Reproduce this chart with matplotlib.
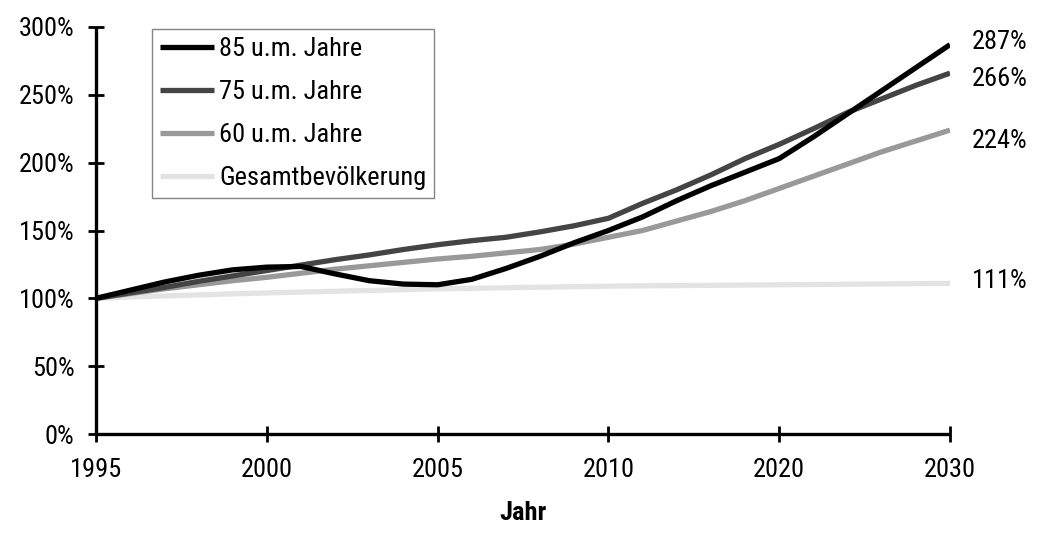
import matplotlib
matplotlib.use("Agg")
import matplotlib.pyplot as plt
from matplotlib.ticker import FixedLocator, FuncFormatter

plt.rcParams['font.family'] = ['Roboto Condensed', 'DejaVu Sans']

# categories (Excel-style category axis: yearly to 2010, then every 2 years)
years = list(range(1995, 2011)) + list(range(2012, 2031, 2))
tick_years = [1995, 2000, 2005, 2010, 2020, 2030]

s85 = [100, 106, 112, 117, 121, 123, 123.5, 118, 113, 110.5, 110, 114, 122, 131,
       141, 150, 160, 172, 183, 193, 203, 219, 236, 253, 270, 287]
s75 = [100, 104, 108, 112.5, 116.5, 120.5, 124.5, 128.5, 132, 136, 139.5, 142.5,
       145, 149, 153.5, 159, 170, 180, 191, 203, 213.5, 225, 237, 247, 257, 266]
s60 = [100, 103.5, 107, 110, 113, 115.5, 118.5, 121.5, 124, 126.5, 129, 131,
       133.5, 136, 140, 145, 150, 157, 164, 172, 181, 190, 199, 208, 216, 224]
sges = [100, 101, 101.8, 102.5, 103.3, 104, 104.6, 105.2, 105.8, 106.4, 107,
        107.4, 107.8, 108.2, 108.6, 109, 109.2, 109.4, 109.6, 109.8, 110, 110.2,
        110.4, 110.6, 110.8, 111]

series = [("85 u.m. Jahre", s85, "#000000"),
          ("75 u.m. Jahre", s75, "#444444"),
          ("60 u.m. Jahre", s60, "#999999"),
          ("Gesamtbevölkerung", sges, "#e3e3e3")]
end_offsets = {"85 u.m. Jahre": 2, "75 u.m. Jahre": -4,
               "60 u.m. Jahre": -8, "Gesamtbevölkerung": 2}

FS = 19

fig = plt.figure(figsize=(10.42, 5.34), dpi=100)
ax = fig.add_axes([96/1042, 1-434/534, (950-96)/1042, (434-27)/534])

x = list(range(len(years)))
for name, vals, col in reversed(series):
    ax.plot(x, vals, color=col, lw=3.8, label=name, solid_capstyle='butt',
            solid_joinstyle='round')
    ax.annotate(f"{vals[-1]:.0f}%", xy=(x[-1], vals[-1]),
                xytext=(16, end_offsets[name]), textcoords='offset points',
                ha='left', va='center', fontsize=FS, annotation_clip=False)

ax.set_xlim(0, len(years)-1)
ax.set_ylim(0, 300)
ax.xaxis.set_major_locator(FixedLocator([years.index(y) for y in tick_years]))
ax.set_xticklabels([str(y) for y in tick_years])
ax.set_yticks([0, 50, 100, 150, 200, 250, 300])
ax.yaxis.set_major_formatter(FuncFormatter(lambda v, p: f"{v:.0f}%"))

for sp in ['top', 'right']:
    ax.spines[sp].set_visible(False)
for sp in ['left', 'bottom']:
    ax.spines[sp].set_linewidth(2.4)
    ax.spines[sp].set_color('black')
    ax.spines[sp].set_capstyle('butt')
ax.tick_params(axis='x', direction='inout', length=12, width=2.0,
               labelsize=FS, colors='black', pad=11)
ax.tick_params(axis='y', direction='inout', length=11, width=2.0,
               labelsize=FS, colors='black', pad=10)
ax.set_xlabel("Jahr", fontsize=FS, fontweight='bold', labelpad=14)

handles, labels = ax.get_legend_handles_labels()
leg = ax.legend(handles[::-1], labels[::-1], loc='upper left',
                bbox_to_anchor=((152-96)/854, (434-29)/407), borderaxespad=0,
                fontsize=FS, frameon=True, fancybox=False, edgecolor='#666666',
                handlelength=2.05, handletextpad=0.2, labelspacing=0.72,
                borderpad=0.3)
leg.get_frame().set_linewidth(1.0)

fig.savefig("out.png", dpi=100)
